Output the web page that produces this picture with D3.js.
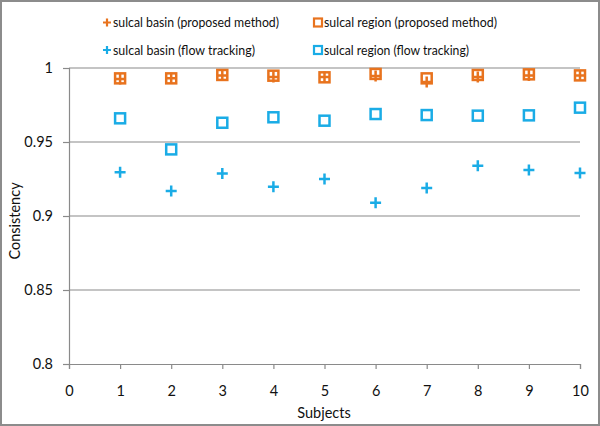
<!DOCTYPE html>
<html><head><meta charset="utf-8">
<script src="https://cdn.jsdelivr.net/npm/d3@7"></script>
<style>body{margin:0;background:#fff}svg{display:block}</style>
</head><body>
<script>
const subjects = [1,2,3,4,5,6,7,8,9,10];
const basinProposed = [0.9926,0.993,0.995,0.994,0.994,0.9946,0.9905,0.994,0.995,0.995];
const regionProposed = [0.993,0.993,0.9953,0.9948,0.9937,0.996,0.993,0.9953,0.9957,0.995];
const basinFlow = [0.9295,0.9169,0.9288,0.9198,0.925,0.909,0.919,0.934,0.931,0.929];
const regionFlow = [0.966,0.945,0.963,0.9667,0.9644,0.9689,0.9682,0.9678,0.968,0.9732];
const xTicks = [0,1,2,3,4,5,6,7,8,9,10];
const yTicks = [0.8,0.85,0.9,0.95,1];
const orange = "#E8731E", blue = "#1AACE6";
const W=600,H=426;
const FONT = "Lato, 'Open Sans', sans-serif";
const svg = d3.select("body").append("svg").attr("width",W).attr("height",H)
  .style("font-family",FONT);
svg.append("rect").attr("x",1).attr("y",1).attr("width",W-2).attr("height",H-2)
  .attr("fill","#fff").attr("stroke","#8c8c8c").attr("stroke-width",2);
const x = d3.scaleLinear().domain([0,10]).range([69,580]);
const y = d3.scaleLinear().domain([0.8,1]).range([364,68]);
// gridlines
svg.append("g").selectAll("line").data(yTicks.slice(1)).join("line")
  .attr("x1",x(0)).attr("x2",x(10)).attr("y1",d=>y(d)).attr("y2",d=>y(d))
  .attr("stroke","#8a8a8a").attr("stroke-width",1.2);
// y axis
const ya = svg.append("g").attr("transform",`translate(${x(0)},0)`)
  .call(d3.axisLeft(y).tickValues(yTicks).tickFormat(d=>d===1?"1":d3.format("")(d)).tickSize(6).tickPadding(10));
// x axis
const xa = svg.append("g").attr("transform",`translate(0,${y(0.8)})`)
  .call(d3.axisBottom(x).tickValues(xTicks).tickSize(5).tickPadding(17));
[ya,xa].forEach(a=>{
  a.select(".domain").attr("stroke","#8a8a8a").attr("stroke-width",1.2);
  a.selectAll(".tick line").attr("stroke","#8a8a8a").attr("stroke-width",1.2);
  a.selectAll("text").attr("font-size",14.5).attr("fill","#111").style("font-family",FONT);
});
svg.append("text").attr("x",324).attr("y",418).attr("text-anchor","middle")
  .attr("font-size",14.5).attr("fill","#111").text("Subjects");
svg.append("text").attr("transform","translate(20,221) rotate(-90)").attr("text-anchor","middle")
  .attr("font-size",14.5).attr("fill","#111").text("Consistency");
// markers
const sq = 10, cr = 5.5;
function squares(vals,color){
  svg.append("g").selectAll("rect").data(vals).join("rect")
    .attr("x",(d,i)=>x(subjects[i])-sq/2).attr("y",d=>y(d)-sq/2)
    .attr("width",sq).attr("height",sq).attr("fill","none")
    .attr("stroke",color).attr("stroke-width",2.5);
}
function crosses(vals,color){
  svg.append("g").selectAll("path").data(vals).join("path")
    .attr("d",(d,i)=>{const cx=x(subjects[i]),cy=y(d);
      return `M${cx-cr},${cy}H${cx+cr}M${cx},${cy-cr}V${cy+cr}`;})
    .attr("stroke",color).attr("stroke-width",2.5).attr("fill","none");
}
crosses(basinFlow,blue);
squares(regionFlow,blue);
squares(regionProposed,orange);
crosses(basinProposed,orange);
// legend
const leg = [
  {t:"sulcal basin (proposed method)",c:orange,k:"cross",x:107,y:22.5,w:166},
  {t:"sulcal region (proposed method)",c:orange,k:"sq",x:318,y:22.5,w:173},
  {t:"sulcal basin (flow tracking)",c:blue,k:"cross",x:107,y:50,w:142},
  {t:"sulcal region (flow tracking)",c:blue,k:"sq",x:318,y:50,w:145}
];
leg.forEach(l=>{
  if(l.k==="cross"){
    svg.append("path").attr("d",`M${l.x-4},${l.y}H${l.x+4}M${l.x},${l.y-4}V${l.y+4}`)
      .attr("stroke",l.c).attr("stroke-width",2.2);
  } else {
    svg.append("rect").attr("x",l.x-4).attr("y",l.y-4).attr("width",8).attr("height",8)
      .attr("fill","none").attr("stroke",l.c).attr("stroke-width",2.2);
  }
  svg.append("text").attr("x",l.x+6).attr("y",l.y+4.5).attr("font-size",13.8).attr("fill","#111")
    .attr("textLength",l.w).attr("lengthAdjust","spacingAndGlyphs").text(l.t);
});
</script>
</body></html>
